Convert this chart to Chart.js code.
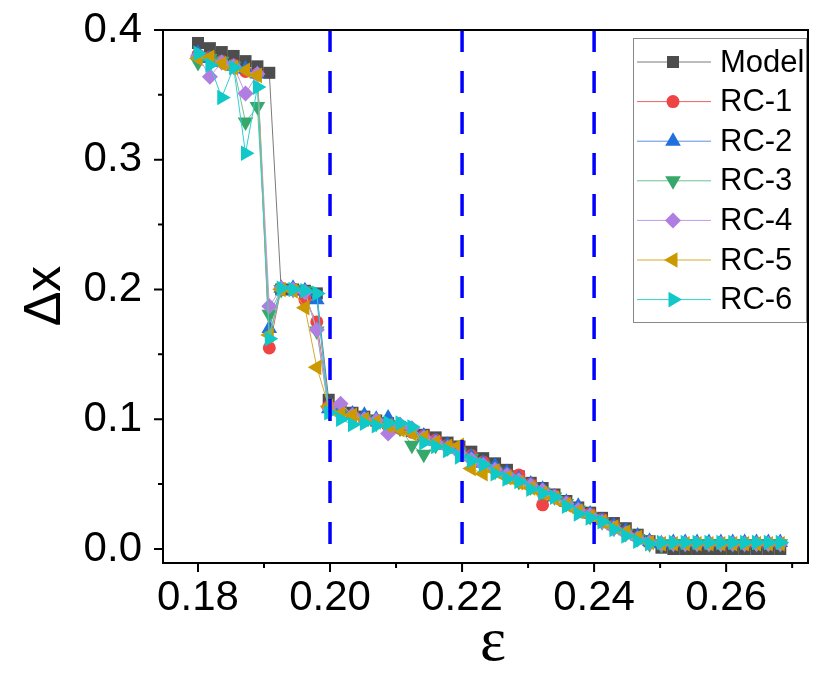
<!DOCTYPE html>
<html>
<head>
<meta charset="utf-8">
<script src="https://cdn.jsdelivr.net/npm/chart.js@4.4.1/dist/chart.umd.min.js"></script>
<style>
  html, body { margin: 0; background: #fff; }
  #wrap { width: 830px; height: 678px; }
</style>
</head>
<body>
<div id="wrap"><canvas id="c" width="830" height="678"></canvas></div>
<script>
// epsilon values (x)
const eps = [0.1800,0.1818,0.1836,0.1854,0.1872,0.1890,0.1908,0.1926,0.1944,0.1962,
             0.1980,0.1998,0.2016,0.2034,0.2052,0.2070,0.2088,0.2106,0.2124,0.2142,
             0.2160,0.2178,0.2196,0.2214,0.2232,0.2250,0.2268,0.2286,0.2304,0.2322,
             0.2340,0.2358,0.2376,0.2394,0.2412,0.2430,0.2448,0.2466,0.2484,0.2502,
             0.2520,0.2538,0.2556,0.2574,0.2592,0.2610,0.2628,0.2646,0.2664,0.2682];

const model = [0.390,0.386,0.383,0.380,0.376,0.372,0.367,0.200,0.200,0.199,
               0.197,0.115,0.108,0.105,0.102,0.099,0.097,0.094,0.091,0.088,
               0.086,0.082,0.079,0.075,0.070,0.066,0.061,0.056,0.051,0.047,
               0.042,0.037,0.032,0.028,0.024,0.020,0.016,0.011,0.006,0.001,
               0.000,0.000,0.000,0.000,0.000,0.000,0.000,0.000,0.000,0.000];
const rc1 = [0.381,0.379,0.376,0.373,0.368,0.366,0.155,0.201,0.200,0.192,
             0.175,0.110,0.106,0.103,0.101,0.098,0.095,0.093,0.090,0.087,
             0.084,0.080,0.076,0.072,0.067,0.062,0.058,0.057,0.050,0.034,
             0.041,0.036,0.031,0.027,0.023,0.018,0.013,0.009,0.005,0.004,
             0.004,0.004,0.004,0.004,0.004,0.004,0.004,0.004,0.004,0.004];
const rc2 = [0.382,0.378,0.375,0.372,0.370,0.366,0.170,0.201,0.201,0.199,
             0.192,0.108,0.107,0.104,0.103,0.100,0.101,0.095,0.092,0.087,
             0.083,0.080,0.077,0.071,0.066,0.064,0.059,0.054,0.050,0.046,
             0.040,0.036,0.033,0.027,0.022,0.018,0.014,0.010,0.006,0.004,
             0.005,0.005,0.005,0.005,0.005,0.005,0.005,0.005,0.005,0.005];
const rc3 = [0.375,0.378,0.376,0.372,0.329,0.341,0.181,0.200,0.200,0.199,
             0.168,0.106,0.104,0.101,0.100,0.097,0.096,0.093,0.080,0.073,
             0.080,0.078,0.074,0.070,0.064,0.060,0.056,0.052,0.048,0.044,
             0.040,0.035,0.030,0.025,0.021,0.016,0.012,0.008,0.004,0.003,
             0.004,0.004,0.004,0.004,0.004,0.004,0.004,0.004,0.004,0.004];
const rc4 = [0.380,0.364,0.375,0.372,0.351,0.366,0.187,0.201,0.200,0.198,
             0.169,0.109,0.112,0.103,0.100,0.099,0.089,0.096,0.093,0.086,
             0.082,0.078,0.074,0.069,0.065,0.061,0.057,0.053,0.049,0.045,
             0.040,0.035,0.030,0.026,0.021,0.016,0.012,0.008,0.005,0.004,
             0.004,0.004,0.004,0.004,0.004,0.004,0.004,0.004,0.004,0.004];
const rc5 = [0.378,0.379,0.374,0.371,0.369,0.365,0.165,0.200,0.199,0.186,
             0.140,0.110,0.104,0.103,0.100,0.098,0.095,0.092,0.089,0.086,
             0.082,0.079,0.080,0.062,0.058,0.060,0.055,0.051,0.047,0.043,
             0.039,0.034,0.029,0.025,0.021,0.017,0.013,0.009,0.005,0.004,
             0.004,0.004,0.004,0.004,0.004,0.004,0.004,0.004,0.004,0.004];
const rc6 = [0.382,0.373,0.348,0.371,0.305,0.356,0.162,0.201,0.200,0.199,
             0.197,0.105,0.100,0.096,0.097,0.095,0.097,0.097,0.094,0.082,
             0.079,0.076,0.071,0.068,0.065,0.058,0.054,0.052,0.046,0.043,
             0.040,0.033,0.027,0.024,0.021,0.015,0.010,0.006,0.004,0.005,
             0.005,0.005,0.005,0.005,0.005,0.005,0.005,0.005,0.005,0.005];

const xTicks = [0.18, 0.20, 0.22, 0.24, 0.26];
const xMinor = [0.19, 0.21, 0.23, 0.25, 0.27];
const yTicks = [0.0, 0.1, 0.2, 0.3, 0.4];
const yMinor = [0.05, 0.15, 0.25, 0.35];
const dashedAt = [0.20, 0.22, 0.24];

const series = [
  { label: 'Model', data: model, color: '#4d4d4d', line: '#7a7a7a', style: 'rect',     rot: 0,   r: 8.5 },
  { label: 'RC-1',  data: rc1,   color: '#f04444', line: '#f06060', style: 'circle',   rot: 0,   r: 6.5 },
  { label: 'RC-2',  data: rc2,   color: '#1f6fdc', line: '#5a90e0', style: 'triangle', rot: 0,   r: 9 },
  { label: 'RC-3',  data: rc3,   color: '#36a86a', line: '#70c090', style: 'triangle', rot: 180, r: 9 },
  { label: 'RC-4',  data: rc4,   color: '#b07ee0', line: '#c09ae6', style: 'rectRot',  rot: 0,   r: 8 },
  { label: 'RC-5',  data: rc5,   color: '#cc9900', line: '#d6aa30', style: 'triangle', rot: 270, r: 9 },
  { label: 'RC-6',  data: rc6,   color: '#10c8c8', line: '#30d0d0', style: 'triangle', rot: 90,  r: 9 }
];

const decorations = {
  id: 'decorations',
  afterDatasetsDraw(chart) {
    const { ctx, chartArea: a, scales: { x, y } } = chart;
    ctx.save();
    // blue dashed markers
    ctx.strokeStyle = '#0000ff';
    ctx.lineWidth = 3.5;
    ctx.setLineDash([22, 19]);
    dashedAt.forEach(v => {
      const px = x.getPixelForValue(v);
      ctx.beginPath();
      ctx.moveTo(px, a.top);
      ctx.lineTo(px, a.bottom);
      ctx.stroke();
    });
    ctx.setLineDash([]);

    // frame and ticks
    ctx.strokeStyle = '#000';
    ctx.lineWidth = 2;
    ctx.strokeRect(a.left, a.top, a.right - a.left, a.bottom - a.top);
    ctx.beginPath();
    xTicks.forEach(v => { const p = x.getPixelForValue(v); ctx.moveTo(p, a.bottom); ctx.lineTo(p, a.bottom + 9); });
    xMinor.forEach(v => { const p = x.getPixelForValue(v); ctx.moveTo(p, a.bottom); ctx.lineTo(p, a.bottom + 5); });
    yTicks.forEach(v => { const p = y.getPixelForValue(v); ctx.moveTo(a.left, p); ctx.lineTo(a.left - 9, p); });
    yMinor.forEach(v => { const p = y.getPixelForValue(v); ctx.moveTo(a.left, p); ctx.lineTo(a.left - 5, p); });
    ctx.stroke();

    // legend
    const lx = 633, ly = 38, lw = 173, lh = 284;
    ctx.fillStyle = '#fff';
    ctx.fillRect(lx, ly, lw, lh);
    ctx.strokeStyle = '#888';
    ctx.lineWidth = 1;
    ctx.strokeRect(lx + 0.5, ly + 0.5, lw, lh);
    ctx.font = '31px "Liberation Sans", Arial, sans-serif';
    ctx.textBaseline = 'middle';
    series.forEach((s, i) => {
      const yy = 62 + i * 39.6;
      ctx.strokeStyle = s.line;
      ctx.lineWidth = 1;
      ctx.beginPath();
      ctx.moveTo(637, yy);
      ctx.lineTo(711, yy);
      ctx.stroke();
      ctx.fillStyle = s.color;
      Chart.helpers.drawPoint(ctx, { pointStyle: s.style, rotation: s.rot, radius: s.r, borderWidth: 0 }, 673, yy);
      ctx.fillStyle = '#000';
      ctx.fillText(s.label, 720, yy + 1);
    });

    // axis titles
    ctx.fillStyle = '#000';
    ctx.textAlign = 'center';
    ctx.textBaseline = 'middle';
    ctx.font = '52px "Liberation Sans", Arial, sans-serif';
    ctx.save();
    ctx.translate(46, 296);
    ctx.rotate(-Math.PI / 2);
    ctx.fillText('Δx', 0, 0);
    ctx.restore();
    ctx.font = '62px "Liberation Serif", "Times New Roman", serif';
    ctx.fillText('ε', 493, 644);
    ctx.restore();
  }
};

Chart.defaults.font.family = '"Liberation Sans", Arial, sans-serif';
Chart.defaults.color = '#000';

new Chart(document.getElementById('c'), {
  type: 'line',
  data: {
    datasets: series.map((s, i) => ({
      label: s.label,
      data: eps.map((e, k) => ({ x: e, y: s.data[k] })),
      borderColor: s.line,
      backgroundColor: s.color,
      borderWidth: 1,
      pointStyle: s.style,
      pointRotation: s.rot,
      pointRadius: s.r,
      pointHoverRadius: s.r,
      pointBackgroundColor: s.color,
      pointBorderColor: s.color,
      pointBorderWidth: 0,
      tension: 0,
      order: series.length - 1 - i
    }))
  },
  options: {
    responsive: false,
    animation: false,
    devicePixelRatio: 1,
    layout: { padding: { left: 0, top: 30, right: 22, bottom: 0 } },
    plugins: { legend: { display: false }, tooltip: { enabled: false } },
    scales: {
      x: {
        type: 'linear',
        min: 0.1747,
        max: 0.2724,
        afterBuildTicks: s => { s.ticks = xTicks.map(v => ({ value: v })); },
        afterFit: s => { s.height = 115; s.paddingLeft = 0; s.paddingRight = 0; },
        ticks: { callback: v => v.toFixed(2), font: { size: 42 }, color: '#000', padding: 10, maxRotation: 0, autoSkip: false },
        grid: { display: false, drawTicks: false },
        border: { display: false }
      },
      y: {
        min: -0.0108,
        max: 0.4,
        afterBuildTicks: s => { s.ticks = yTicks.map(v => ({ value: v })); },
        afterFit: s => { s.width = 163; s.paddingTop = 0; s.paddingBottom = 0; },
        ticks: { callback: v => v.toFixed(1), font: { size: 42 }, color: '#000', padding: 21, autoSkip: false },
        grid: { display: false, drawTicks: false },
        border: { display: false }
      }
    }
  },
  plugins: [decorations]
});
</script>
</body>
</html>
